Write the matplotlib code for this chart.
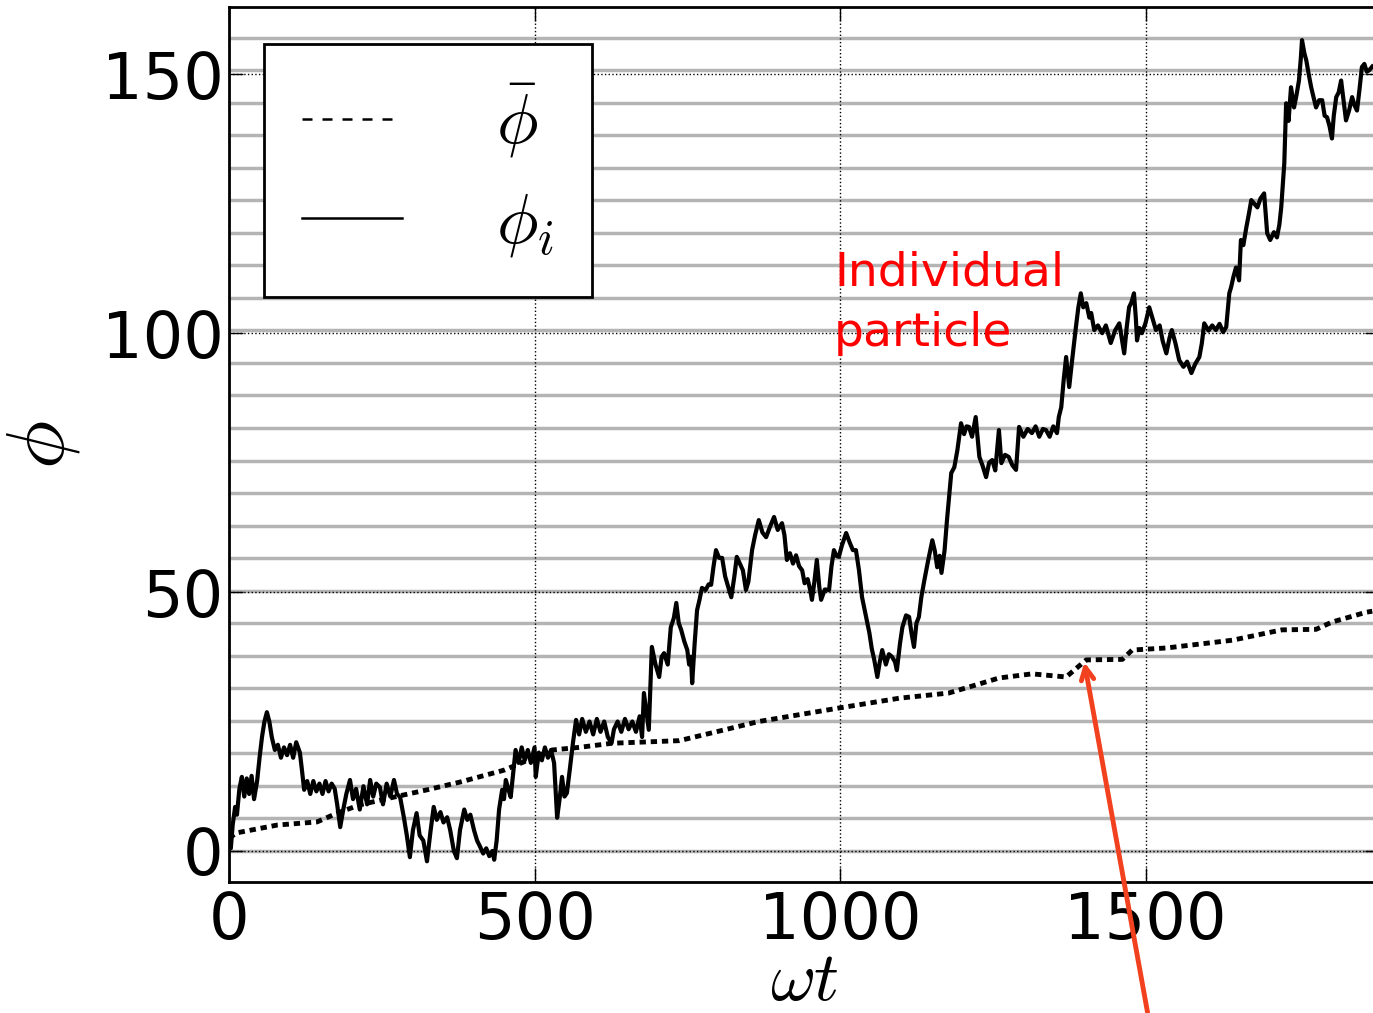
import numpy as np
import matplotlib
matplotlib.use('Agg')
import matplotlib.pyplot as plt

plt.rcParams['mathtext.fontset'] = 'cm'
plt.rcParams['font.family'] = ['DejaVu Sans']

# individual particle phase phi_i vs omega*t
t_i = [0, 3, 6, 10, 13, 17, 21, 25, 29, 33, 37, 41, 46, 50, 54, 58, 62, 66, 70, 75,
       80, 85, 90, 95, 100, 105, 110, 116, 119, 123, 128, 133, 138, 143, 148, 153, 158, 163, 168, 173,
       177, 182, 187, 192, 198, 203, 208, 214, 220, 226, 231, 236, 241, 247, 252, 258, 264, 270, 275, 280,
       286, 291, 296, 301, 307, 312, 318, 324, 330, 335, 340, 346, 351, 357, 362, 368, 373, 378, 385, 390,
       395, 401, 406, 411, 416, 421, 426, 431, 434, 438, 442, 447, 450, 453, 457, 461, 465, 469, 474, 479,
       484, 489, 494, 500, 502, 507, 512, 517, 522, 527, 532, 537, 541, 545, 549, 553, 558, 563, 568, 573,
       578, 584, 590, 596, 602, 608, 614, 620, 626, 630, 636, 642, 648, 654, 660, 666, 672, 676, 679, 684,
       687, 692, 698, 704, 708, 712, 718, 723, 728, 732, 736, 740, 745, 750, 753, 756, 758, 762, 766, 770,
       774, 780, 785, 789, 793, 797, 802, 807, 812, 817, 822, 827, 831, 836, 841, 846, 850, 856, 861, 867,
       873, 879, 885, 892, 898, 905, 909, 913, 918, 923, 928, 933, 938, 942, 947, 951, 954, 958, 962, 966,
       969, 975, 982, 986, 990, 994, 998, 1003, 1010, 1016, 1021, 1026, 1031, 1036, 1042, 1048, 1052, 1056, 1061, 1065,
       1069, 1075, 1080, 1085, 1090, 1093, 1098, 1102, 1108, 1113, 1117, 1121, 1125, 1129, 1133, 1138, 1144, 1151, 1155, 1159,
       1163, 1166, 1171, 1175, 1179, 1182, 1187, 1192, 1198, 1203, 1207, 1211, 1216, 1222, 1225, 1228, 1233, 1239, 1244, 1249,
       1254, 1260, 1264, 1270, 1276, 1282, 1288, 1293, 1300, 1307, 1314, 1320, 1326, 1332, 1337, 1343, 1349, 1355, 1358, 1362,
       1366, 1370, 1375, 1380, 1386, 1390, 1394, 1398, 1403, 1408, 1411, 1416, 1422, 1429, 1435, 1443, 1450, 1457, 1461, 1465,
       1469, 1473, 1477, 1481, 1484, 1486, 1490, 1494, 1500, 1506, 1511, 1517, 1523, 1528, 1534, 1539, 1543, 1549, 1555, 1562,
       1568, 1575, 1581, 1588, 1592, 1596, 1603, 1609, 1615, 1621, 1627, 1632, 1637, 1640, 1644, 1648, 1653, 1656, 1660, 1665,
       1669, 1673, 1678, 1683, 1688, 1694, 1699, 1704, 1710, 1715, 1719, 1722, 1727, 1730, 1734, 1738, 1743, 1747, 1751, 1754,
       1756, 1760, 1763, 1767, 1771, 1775, 1779, 1784, 1789, 1793, 1797, 1801, 1805, 1808, 1812, 1816, 1820, 1824, 1828, 1833,
       1838, 1842, 1846, 1850, 1854, 1858, 1862, 1866, 1871]
phi_i = [1, 0.5, 5, 8.5, 7, 12, 14.3, 10.5, 14, 11, 14.5, 10, 13.5, 18, 22, 25, 26.8, 25, 22, 19.5,
         20.5, 18, 20, 18.5, 20.5, 18, 21, 19, 16, 11.8, 13.5, 11, 13.5, 11.5, 13, 11, 13.5, 11.5, 13, 12,
         9, 4.6, 8, 11, 13.7, 10, 12, 8, 12.5, 9, 13.7, 10.5, 13, 12.3, 9, 13, 10.5, 13.7, 11, 10.4,
         6.6, 3, -1.2, 4, 7.3, 3, 2, -2, 4, 8.5, 6, 7.5, 5.5, 6.5, 4, 0, -1.4, 4, 8, 6,
         7, 4, 2, 0.8, -0.5, 0.5, -1, 0, -1.7, 2, 8, 11.8, 10, 13.7, 12, 10.4, 15, 19.5, 17, 20,
         17.5, 19.5, 17, 20, 14.3, 19, 17.5, 20, 18, 19.5, 17, 6.4, 10, 14.3, 10.5, 11.2, 16, 21, 25.3, 22.5,
         25.5, 23, 25, 22.5, 25.5, 23, 25, 22, 20.8, 23.5, 25, 23, 25.5, 23.5, 25, 23, 26, 22, 30.5, 26,
         23.4, 39.4, 36, 33.6, 37.5, 38.2, 36, 43.2, 45, 47.9, 44, 42.7, 40.5, 38.8, 36, 37.5, 32.4, 40, 46.5, 48.5,
         50.8, 50.4, 51.5, 51.4, 55, 58.1, 56.6, 56.6, 53, 51, 49, 53, 56.8, 55.5, 54.2, 50.4, 52, 58.1, 61, 63.9,
         61.5, 60.6, 62.5, 64.5, 62, 63.3, 61, 56.2, 57.5, 55.5, 57.1, 55, 54.2, 51.7, 52.5, 50.5, 48.5, 52, 56.2, 51,
         48.5, 50.5, 50.4, 55, 58.1, 57, 56.8, 59, 61.4, 59.5, 58.1, 58.1, 54.2, 49, 45.5, 42.1, 39, 36.9, 33.6, 36.5,
         38.8, 36, 38, 37.5, 36.5, 34.9, 40, 43.2, 45.5, 45.2, 42, 39.4, 44, 45.2, 49, 52.3, 56, 60, 58, 54.8,
         57, 53.7, 58, 63.9, 69, 73, 74.1, 77.4, 82.6, 80.5, 82, 81.9, 80, 83.8, 80, 76.1, 74.5, 72.2, 75, 75.5,
         73.5, 81.3, 74.9, 76.5, 76.1, 74.5, 73.6, 81.9, 80, 81.5, 80.7, 82, 80, 81.5, 81.3, 80, 82, 80.7, 83.8, 85.7,
         91, 95.4, 89.6, 95, 101.2, 105, 107.7, 105, 105.8, 103, 103.9, 100.6, 101.5, 100, 101.5, 98.1, 100.5, 101.9, 99, 96.1,
         101, 105, 106, 107.7, 103, 98.6, 101, 100, 102, 105, 103, 100.6, 101.5, 98.5, 96.1, 99, 100.6, 98, 94.8, 93.5,
         94.5, 92.3, 94, 95.4, 98, 101.9, 100.5, 101.5, 100.6, 101.8, 100.2, 101.2, 107.7, 108.9, 111, 112.7, 110.2, 118, 117, 120.5,
         123, 125.7, 125, 124.3, 126, 127, 119.3, 118, 119.5, 118.5, 121, 124.3, 132.8, 144.4, 141, 147.5, 143.6, 146, 148.8, 153,
         156.6, 154, 152.7, 150, 147.5, 145.5, 143.6, 145, 145, 142, 141.7, 140, 137.6, 142, 145.6, 146.5, 148.8, 145, 141.1, 143,
         145.6, 144, 143, 147, 151.4, 152, 150.5, 150.8, 151.5]

# ensemble mean phi_bar
t_mean = [0, 13, 79, 144, 177, 214, 270, 324, 378, 450, 529, 573, 627, 737, 790, 867, 998,
          1097, 1178, 1232, 1260, 1314, 1370, 1403, 1462, 1478, 1534, 1642, 1723, 1779, 1805, 1861, 1871]
phi_mean = [2.5, 3.5, 5, 5.6, 7.3, 8.9, 10.4, 11.8, 13.3, 15.6, 19.5, 20, 20.8, 21.3, 22.8, 25, 27.6,
            29.5, 30.5, 32.4, 33.4, 34.2, 33.6, 36.9, 37, 38.8, 39.2, 40.7, 42.7, 42.8, 44.2, 46.1, 46.3]

xticks = [0, 500, 1000, 1500]
yticks = [0, 50, 100, 150]

W, H = 1373, 1013
fig = plt.figure(figsize=(W / 100, H / 100), dpi=100)
ax = fig.add_axes([229 / W, 131 / H, 1150 / W, 875 / H])

# gray lines every 2*pi
for k in range(0, 27):
    ax.axhline(k * 2 * np.pi, color='#b4b4b4', lw=2.5, zorder=0)

ax.plot(t_mean, phi_mean, color='black', ls=(0, (1.3, 1.0)), lw=3.5, zorder=3)
ax.plot(t_i, phi_i, color='black', lw=3, zorder=4)

# legend proxies
l1, = ax.plot([], [], color='black', ls=(0, (4, 4)), lw=1.8)
l2, = ax.plot([], [], 'k-', lw=1.8)
leg = ax.legend([l1, l2], [r'$\bar{\phi}$', r'$\phi_i$'], loc='upper left',
                bbox_to_anchor=(0.03, 0.958), borderaxespad=0, fontsize=50,
                fancybox=False, framealpha=1, edgecolor='black',
                handlelength=1.45, handletextpad=1.35, labelspacing=0.42,
                borderpad=0.55)
leg.get_frame().set_linewidth(2)
leg.set_zorder(10)

ax.set_xlim(0, 1882)
ax.set_ylim(-6, 163)
ax.set_xticks(xticks)
ax.set_yticks(yticks)
ax.grid(True, color='black', ls=':', lw=1, zorder=1)
ax.set_axisbelow(True)
ax.tick_params(direction='in', length=10, width=1, labelsize=46, top=True, right=True)
ax.tick_params(axis='y', pad=4)
ax.tick_params(axis='x', pad=6)
for s in ax.spines.values():
    s.set_linewidth(2)

ax.set_xlabel(r'$\omega t$', fontsize=50, labelpad=-4)
ax.set_ylabel(r'$\phi$', fontsize=58, labelpad=14)

ax.text(990, 116, 'Individual\nparticle', color='red', fontsize=34,
        va='top', ha='left', linespacing=1.45, zorder=6)

ax.annotate('', xy=(1399, 37), xycoords='data',
            xytext=(1148, -2), textcoords='figure pixels',
            arrowprops=dict(arrowstyle='->,head_length=0.9,head_width=0.45',
                            color='#f2411f', lw=3.5),
            annotation_clip=False, zorder=7)

fig.savefig('out.png', dpi=100)
